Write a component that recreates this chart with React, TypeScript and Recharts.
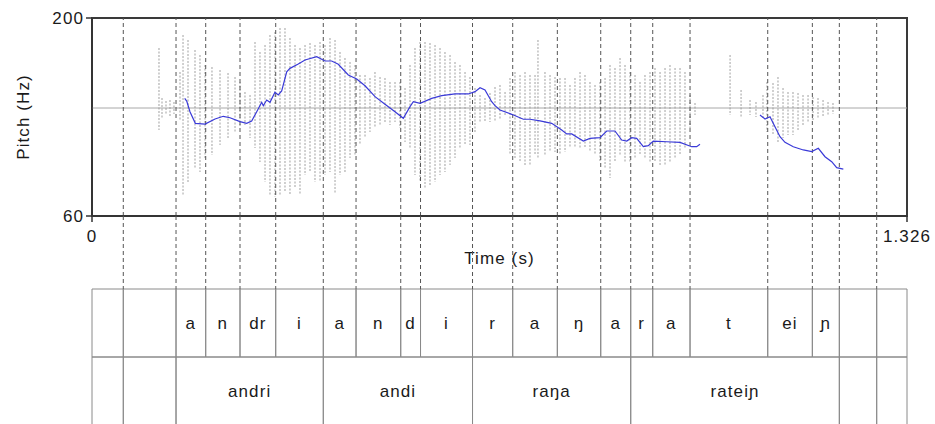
import React from "react";
import { ComposedChart, Line, XAxis, YAxis, ReferenceLine, ReferenceArea, Label } from "recharts";

const DURATION = 1.326;

// segment boundaries (s), shared by the dashed guides and both tiers
const boundaryTimes = [
  0.0509, 0.1367, 0.185, 0.2408, 0.2989, 0.3763, 0.4296, 0.5023, 0.5345, 0.6191,
  0.6845, 0.7571, 0.8277, 0.8765, 0.9123, 0.973, 1.0994, 1.172, 1.2159, 1.2767,
];
const phoneLabels = [
  "", "", "a", "n", "dr", "i", "a", "n", "d", "i", "r", "a", "ŋ", "a", "r", "a", "t", "ei", "ɲ", "", "",
];
const wordEdges = [0, 0.0509, 0.1367, 0.3763, 0.6191, 0.8765, 1.2159, 1.2767, DURATION];
const wordLabels = ["", "", "andri", "andi", "raŋa", "rateiɲ", "", ""];

// F0 track (Hz), two voiced stretches
const pitchTimesA = [
  0.1508, 0.1541, 0.1594, 0.1681, 0.1839, 0.2002, 0.2136, 0.2245, 0.2408, 0.2517,
  0.2598, 0.268, 0.2761, 0.2787, 0.2842, 0.2896, 0.2977, 0.3031, 0.3086, 0.3168,
  0.3221, 0.3356, 0.3466, 0.3656, 0.3791, 0.39, 0.4007, 0.417, 0.4307, 0.4442,
  0.4605, 0.4767, 0.493, 0.5065, 0.5174, 0.5228, 0.5337, 0.5527, 0.569, 0.5906,
  0.6123, 0.6232, 0.6313, 0.6394, 0.6503, 0.6557, 0.6638, 0.6829, 0.7018, 0.7126,
  0.7289, 0.7479, 0.7642, 0.7723, 0.7805, 0.7994, 0.8102, 0.8265, 0.8374, 0.8509,
  0.8618, 0.87, 0.8781, 0.8862, 0.897, 0.9051, 0.9132, 0.935, 0.9567, 0.9757,
  0.9838, 0.9892,
];
const pitchHzA = [
  143.2, 141.3, 133.7, 125.5, 125.0, 128.6, 130.5, 129.5, 126.7, 125.5,
  127.2, 133.7, 140.4, 138.0, 142.0, 140.4, 147.5, 145.6, 148.4, 162.0,
  164.4, 167.5, 170.3, 172.6, 169.6, 169.6, 167.3, 159.7, 156.9, 152.1,
  144.4, 139.0, 133.7, 129.1, 137.3, 140.8, 139.7, 143.2, 145.1, 146.3,
  146.3, 147.9, 150.7, 149.1, 140.8, 138.0, 134.9, 131.9, 128.4, 128.4,
  127.2, 125.5, 120.8, 118.0, 118.0, 113.0, 114.9, 115.4, 120.1, 120.1,
  113.7, 113.0, 115.4, 114.9, 109.0, 109.7, 113.0, 112.5, 112.1, 109.0,
  109.0, 110.7,
];
const pitchTimesB = [
  1.0868, 1.095, 1.1031, 1.1112, 1.1194, 1.1275, 1.141, 1.1573, 1.171, 1.1817,
  1.1926, 1.2035, 1.2116, 1.2224,
];
const pitchHzB = [
  131.4, 128.6, 130.2, 123.1, 116.1, 112.1, 109.0, 106.7, 105.5, 107.9,
  101.9, 98.4, 94.2, 93.2,
];

// waveform peaks per glottal period, relative amplitude
const waveTimes = [
  0.109, 0.1139, 0.1204, 0.1269, 0.1334, 0.1432, 0.1481, 0.1562, 0.1676, 0.1757,
  0.1839, 0.1952, 0.2083, 0.2213, 0.2327, 0.2408, 0.2489, 0.2571, 0.2652, 0.2733,
  0.2815, 0.2896, 0.2977, 0.3059, 0.314, 0.3221, 0.3303, 0.3384, 0.3466, 0.3547,
  0.3628, 0.371, 0.3791, 0.3872, 0.3954, 0.4035, 0.4116, 0.4198, 0.4279, 0.436,
  0.4442, 0.4523, 0.4604, 0.4686, 0.4767, 0.4848, 0.493, 0.5011, 0.5093, 0.5174,
  0.5255, 0.5337, 0.5418, 0.5499, 0.5581, 0.5662, 0.5743, 0.5825, 0.5906, 0.5987,
  0.6069, 0.615, 0.6231, 0.6313, 0.6394, 0.6475, 0.6557, 0.6638, 0.672, 0.6801,
  0.6882, 0.6964, 0.7045, 0.7126, 0.7208, 0.7256, 0.737, 0.7452, 0.7533, 0.7614,
  0.7696, 0.7777, 0.7858, 0.794, 0.8021, 0.8102, 0.8184, 0.8265, 0.8347, 0.8428,
  0.8509, 0.8591, 0.8672, 0.8753, 0.8835, 0.8916, 0.8997, 0.9079, 0.916, 0.9242,
  0.9323, 0.9404, 0.9486, 0.9567, 0.9648, 0.973, 0.9811, 1.0381, 1.056, 1.0706,
  1.0803, 1.0917, 1.0982, 1.108, 1.1161, 1.1243, 1.1324, 1.1405, 1.1487, 1.1568,
  1.165, 1.1731, 1.1812, 1.1894, 1.1975, 1.2056,
];
const waveHigh = [
  0.6, 0.1, 0.07, 0.08, 0.06, 0.36, 0.73, 0.68, 0.58, 0.53,
  0.43, 0.41, 0.38, 0.35, 0.31, 0.26, 0.16, 0.13, 0.66, 0.56,
  0.63, 0.73, 0.76, 0.8, 0.8, 0.7, 0.63, 0.6, 0.63, 0.65,
  0.63, 0.66, 0.63, 0.7, 0.68, 0.56, 0.5, 0.46, 0.43, 0.33,
  0.33, 0.3, 0.36, 0.31, 0.3, 0.26, 0.26, 0.26, 0.2, 0.43,
  0.6, 0.66, 0.66, 0.65, 0.63, 0.6, 0.56, 0.53, 0.46, 0.43,
  0.36, 0.31, 0.2, 0.13, 0.1, 0.15, 0.21, 0.23, 0.16, 0.3,
  0.36, 0.33, 0.36, 0.33, 0.33, 0.68, 0.36, 0.33, 0.31, 0.3,
  0.3, 0.23, 0.3, 0.36, 0.33, 0.26, 0.23, 0.26, 0.3, 0.43,
  0.4, 0.5, 0.43, 0.36, 0.33, 0.26, 0.33, 0.36, 0.4, 0.36,
  0.4, 0.43, 0.4, 0.4, 0.36, 0.13, 0.05, 0.53, 0.18, 0.08,
  0.06, 0.13, 0.26, 0.25, 0.31, 0.2, 0.16, 0.16, 0.15, 0.13,
  0.13, 0.11, 0.1, 0.08, 0.06, 0.05,
];
const waveLow = [
  -0.22, -0.1, -0.06, -0.08, -0.06, -0.12, -0.87, -0.74, -0.6, -0.64,
  -0.5, -0.47, -0.37, -0.3, -0.24, -0.19, -0.17, -0.3, -0.4, -0.54,
  -0.74, -0.87, -0.89, -0.87, -0.84, -0.87, -0.8, -0.87, -0.67, -0.64,
  -0.74, -0.74, -0.67, -0.64, -0.85, -0.67, -0.64, -0.5, -0.47, -0.37,
  -0.3, -0.24, -0.2, -0.17, -0.15, -0.17, -0.14, -0.2, -0.34, -0.4,
  -0.67, -0.74, -0.8, -0.77, -0.74, -0.67, -0.64, -0.57, -0.5, -0.4,
  -0.37, -0.37, -0.24, -0.14, -0.14, -0.14, -0.14, -0.12, -0.07, -0.47,
  -0.5, -0.54, -0.57, -0.57, -0.47, -0.5, -0.47, -0.44, -0.44, -0.47,
  -0.44, -0.4, -0.4, -0.4, -0.4, -0.44, -0.47, -0.54, -0.6, -0.7,
  -0.54, -0.47, -0.54, -0.54, -0.5, -0.47, -0.5, -0.54, -0.54, -0.57,
  -0.57, -0.54, -0.5, -0.47, -0.4, -0.2, -0.07, -0.07, -0.1, -0.07,
  -0.09, -0.1, -0.24, -0.27, -0.35, -0.3, -0.27, -0.27, -0.22, -0.17,
  -0.14, -0.12, -0.1, -0.09, -0.07, -0.06,
];

const pitchA = pitchTimesA.map((t, i) => ({ t, hz: pitchHzA[i] }));
const pitchB = pitchTimesB.map((t, i) => ({ t, hz: pitchHzB[i] }));

// each period becomes its own vertical stroke; the null row breaks the path
const waveData = waveTimes.flatMap((t, i) => [
  { t, amp: waveHigh[i] },
  { t, amp: waveLow[i] },
  { t, amp: null },
]);

const phoneEdges = [0, ...boundaryTimes, DURATION];

const INK = "#1a1a1a";
const FONT = 17;

const App: React.FC = () => {
  return (
    <div
      style={{
        position: "absolute",
        left: 0,
        top: 0,
        width: 935,
        height: 424,
        overflow: "hidden",
        background: "#fff",
        fontFamily: '"Liberation Sans", Arial, sans-serif',
        letterSpacing: 1.1,
      }}
    >
      {/* pitch + waveform panel */}
      <div style={{ position: "absolute", left: 0, top: 0 }}>
        <ComposedChart width={935} height={290} margin={{ top: 18, right: 28, bottom: 44, left: 0 }}>
          <XAxis
            dataKey="t"
            type="number"
            domain={[0, DURATION]}
            ticks={[0, DURATION]}
            interval={0}
            allowDataOverflow
            height={30}
            tickSize={6}
            tickMargin={8}
            stroke="#333"
            strokeWidth={1.5}
            tick={{ fill: INK, fontSize: FONT }}
            tickFormatter={(v: number) => (v === 0 ? "0" : "1.326")}
          >
            <Label
              content={() => (
                <text x={499.5} y={258} textAnchor="middle" dominantBaseline="central" fontSize={FONT} fill={INK}>
                  Time (s)
                </text>
              )}
            />
          </XAxis>
          <YAxis
            yAxisId="hz"
            type="number"
            domain={[60, 200]}
            ticks={[60, 200]}
            interval={0}
            allowDataOverflow
            width={92}
            tickSize={6}
            tickMargin={2}
            stroke="#333"
            strokeWidth={1.5}
            tick={{ fill: INK, fontSize: FONT }}
          >
            <Label
              content={() => (
                <text
                  x={23}
                  y={117}
                  transform="rotate(-90 23 117)"
                  textAnchor="middle"
                  dominantBaseline="central"
                  fontSize={FONT}
                  fill={INK}
                >
                  Pitch (Hz)
                </text>
              )}
            />
          </YAxis>
          <YAxis yAxisId="amp" orientation="right" width={0} type="number" domain={[-1.08, 0.9]} allowDataOverflow hide />

          <ReferenceLine yAxisId="amp" y={0} stroke="#a8a8a8" strokeWidth={1} />
          <Line
            yAxisId="amp"
            data={waveData}
            dataKey="amp"
            stroke="#969696"
            strokeWidth={0.9}
            strokeDasharray="2 1.5"
            dot={false}
            connectNulls={false}
            isAnimationActive={false}
          />

          {boundaryTimes.map((b) => (
            <ReferenceLine key={b} yAxisId="hz" x={b} stroke="#555" strokeWidth={1} strokeDasharray="4 3" />
          ))}

          <Line
            yAxisId="hz"
            data={pitchA}
            dataKey="hz"
            stroke="#3a3ad8"
            strokeWidth={1.2}
            dot={false}
            isAnimationActive={false}
          />
          <Line
            yAxisId="hz"
            data={pitchB}
            dataKey="hz"
            stroke="#3a3ad8"
            strokeWidth={1.2}
            dot={false}
            isAnimationActive={false}
          />

          <ReferenceArea
            yAxisId="hz"
            x1={0}
            x2={DURATION}
            y1={60}
            y2={200}
            fill="none"
            fillOpacity={0}
            stroke="#3a3a3a"
            strokeWidth={2}
          />
        </ComposedChart>
      </div>

      {/* annotation tiers */}
      <div style={{ position: "absolute", left: 0, top: 216 }}>
        <ComposedChart width={935} height={210} margin={{ top: 0, right: 28, bottom: 0, left: 92 }}>
          <XAxis type="number" dataKey="t" domain={[0, DURATION]} allowDataOverflow hide />
          <YAxis type="number" domain={[0, 210]} reversed allowDataOverflow hide />

          {boundaryTimes.map((b) => (
            <ReferenceLine
              key={b}
              segment={[
                { x: b, y: 0 },
                { x: b, y: 73 },
              ]}
              stroke="#555"
              strokeWidth={1}
              strokeDasharray="4 3"
            />
          ))}

          {phoneLabels.map((lab, i) => (
            <ReferenceArea
              key={`p${i}`}
              x1={phoneEdges[i]}
              x2={phoneEdges[i + 1]}
              y1={73}
              y2={141}
              fill="none"
              fillOpacity={0}
              stroke="#8a8a8a"
              strokeWidth={1}
              label={{ value: lab, position: "center", fontSize: FONT, fill: INK }}
            />
          ))}
          {wordLabels.map((lab, i) => (
            <ReferenceArea
              key={`w${i}`}
              x1={wordEdges[i]}
              x2={wordEdges[i + 1]}
              y1={141}
              y2={209}
              fill="none"
              fillOpacity={0}
              stroke="#8a8a8a"
              strokeWidth={1}
              label={{ value: lab, position: "center", fontSize: FONT, fill: INK }}
            />
          ))}
        </ComposedChart>
      </div>
    </div>
  );
};

export default App;
